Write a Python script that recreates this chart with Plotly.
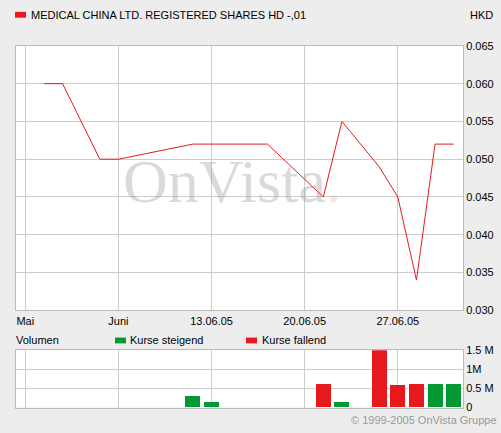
import plotly.graph_objects as go

# trading-day index and prices
day_idx = [0, 1, 3, 4, 8, 12, 15, 16, 18, 19, 20, 21, 22]
price = [0.060, 0.060, 0.050, 0.050, 0.052, 0.052, 0.045, 0.055, 0.049, 0.045, 0.034, 0.052, 0.052]

vol_idx = [8, 9, 15, 16, 18, 19, 20, 21, 22]
volume = [300000, 150000, 600000, 150000, 1500000, 580000, 600000, 620000, 620000]
vol_dir = ["up", "up", "down", "up", "down", "down", "down", "up", "up"]

tick_pos = [-1, 4, 9, 14, 19]
tick_labels = ["Mai", "Juni", "13.06.05", "20.06.05", "27.06.05"]
price_ticks = [0.030, 0.035, 0.040, 0.045, 0.050, 0.055, 0.060, 0.065]
vol_ticks = [0, 500000, 1000000, 1500000]
vol_tick_labels = ["0", "0.5 M", "1M", "1.5 M"]

RED = "#e8191c"
GREEN = "#009933"
colors = [GREEN if d == "up" else RED for d in vol_dir]

fig = go.Figure()
fig.add_trace(go.Scatter(x=day_idx, y=price, mode="lines", line=dict(color=RED, width=1),
                         xaxis="x", yaxis="y", showlegend=False))
fig.add_trace(go.Bar(x=vol_idx, y=volume, marker=dict(color=colors, line=dict(width=0)),
                     width=0.8, xaxis="x2", yaxis="y2", showlegend=False))

xr = [-1.5, 22.5]
xd = [16/501, 463/501]
axcommon = dict(showline=True, linecolor="#bbbbbb", mirror=True, gridcolor="#cccccc",
                zeroline=False, tickfont=dict(family="Liberation Sans, Arial", size=11, color="#000"))
fig.update_layout(
    width=501, height=433, margin=dict(l=0, r=0, t=0, b=0),
    paper_bgcolor="#ededed", plot_bgcolor="#ffffff",
    xaxis=dict(domain=xd, range=xr, tickvals=tick_pos, ticktext=tick_labels, anchor="y", ticks="", **axcommon),
    yaxis=dict(domain=[120/433, 392/433], range=[0.030, 0.065], tickvals=price_ticks,
               tickformat=".3f", side="right", anchor="x", ticks="", **axcommon),
    xaxis2=dict(domain=xd, range=xr, tickvals=tick_pos, showticklabels=False, anchor="y2", ticks="", **axcommon),
    yaxis2=dict(domain=[20/433, 79/433], range=[0, 1500000], tickvals=vol_ticks, ticktext=vol_tick_labels,
                side="right", anchor="x2", ticks="", **axcommon),
    font=dict(family="Liberation Sans, Arial", size=11, color="#000"),
    bargap=0,
)
ann = [
    dict(text="MEDICAL CHINA LTD. REGISTERED SHARES HD -,01", x=29/501, y=1-9/433, xanchor="left", yanchor="middle"),
    dict(text="HKD", x=495/501, y=1-9/433, xanchor="right", yanchor="middle"),
    dict(text="Volumen", x=14/501, y=1-344/433, xanchor="left", yanchor="middle"),
    dict(text="Kurse steigend", x=128/501, y=1-344/433, xanchor="left", yanchor="middle"),
    dict(text="Kurse fallend", x=260/501, y=1-344/433, xanchor="left", yanchor="middle"),
    dict(text="© 1999-2005 OnVista Gruppe", x=499/501, y=1-426/433, xanchor="right", yanchor="middle",
         font=dict(color="#999999", size=11)),
    dict(text="OnVista<span style='color:rgba(220,120,120,0.5)'>.</span>", x=232/501, y=1-180/433,
         xanchor="center", yanchor="middle",
         font=dict(family="Liberation Serif, Times New Roman", size=62, color="rgba(150,150,150,0.35)")),
]
for a in ann:
    a.setdefault("font", dict(size=11, color="#000"))
    fig.add_annotation(xref="paper", yref="paper", showarrow=False, **a)
for x0, col in [(115, GREEN), (246, RED)]:
    fig.add_shape(type="rect", xref="paper", yref="paper", x0=x0/501, x1=(x0+11)/501,
                  y0=1-(344+3)/433, y1=1-(344-3)/433, fillcolor=col, line=dict(width=0))
fig.add_shape(type="rect", xref="paper", yref="paper", x0=15/501, x1=26/501,
              y0=1-12/433, y1=1-6/433, fillcolor=RED, line=dict(width=0))
fig.write_html("out.html", config={"displayModeBar": False})

with open("out.html", encoding="utf-8") as f:
    html = f.read()
html = html.replace("<head>", "<head><style>html,body{margin:0;padding:0;overflow:hidden;background:#ededed}</style>", 1)
with open("out.html", "w", encoding="utf-8") as f:
    f.write(html)
